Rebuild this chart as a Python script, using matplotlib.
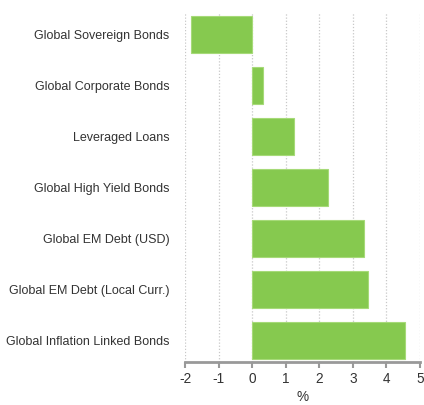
import matplotlib
matplotlib.use("Agg")
import matplotlib.pyplot as plt

plt.rcParams["font.family"] = ["Liberation Sans", "DejaVu Sans"]
plt.rcParams["axes.unicode_minus"] = False

categories = [
    "Global Sovereign Bonds",
    "Global Corporate Bonds",
    "Leveraged Loans",
    "Global High Yield Bonds",
    "Global EM Debt (USD)",
    "Global EM Debt (Local Curr.)",
    "Global Inflation Linked Bonds",
]
returns = [-1.82, 0.32, 1.24, 2.27, 3.34, 3.44, 4.54]
x_ticks = [-2, -1, 0, 1, 2, 3, 4, 5]

TEXT = "#333333"
BAR = "#86C94F"

fig = plt.figure(figsize=(4.24, 4.05), dpi=100)
ax = fig.add_axes([0.4363, 0.1062, 0.5543, 0.8618])

ax.barh(range(len(categories)), returns, height=0.72, color=BAR,
        edgecolor="#A6DA78", linewidth=0.8, zorder=3)

ax.set_ylim(len(categories) - 0.58, -0.42)
ax.set_xlim(-2, 5)
ax.set_xticks(x_ticks)
ax.set_xticklabels([str(t) for t in x_ticks], fontsize=9.8, color=TEXT)
ax.set_yticks(range(len(categories)))
ax.set_yticklabels(categories, fontsize=9.0, color=TEXT)
ax.tick_params(axis="y", length=0, pad=11)
ax.tick_params(axis="x", length=4, width=1.5, color="#999999", pad=3)

ax.grid(axis="x", linestyle=(0, (1, 1.5)), color="#C8C8C8", linewidth=0.9, zorder=0)
for side in ["top", "right", "left"]:
    ax.spines[side].set_visible(False)
ax.spines["bottom"].set_color("#999999")
ax.spines["bottom"].set_linewidth(2)

ax.set_xlabel("%", fontsize=9.8, color=TEXT, labelpad=3)

fig.savefig("out.png", dpi=100)
